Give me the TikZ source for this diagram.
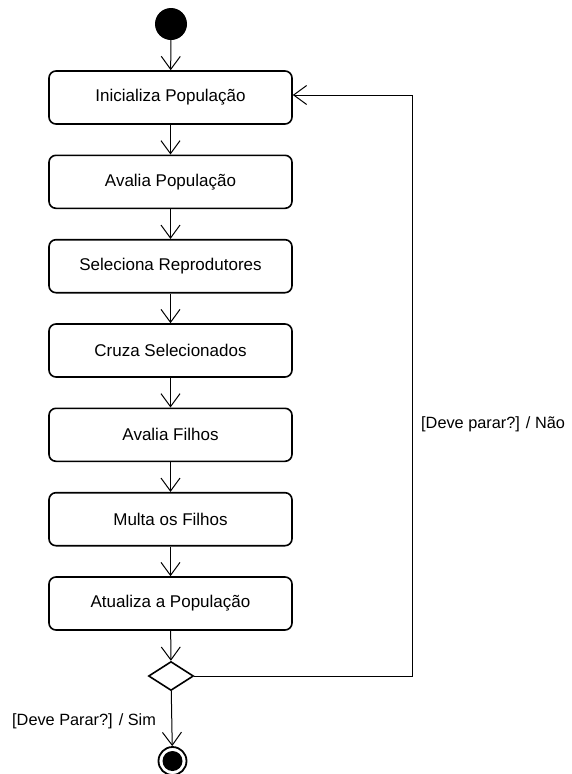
\documentclass[tikz,border=0pt]{standalone}
\usepackage{fontspec}
\setmainfont{Liberation Sans}
\usetikzlibrary{arrows.meta,shapes.geometric}
\begin{document}
\begin{tikzpicture}[x=1pt,y=-1pt,
  font=\fontsize{17}{20}\selectfont,
  action/.style={draw,line width=1.6pt,rounded corners=7pt,minimum width=243pt,minimum height=53pt,inner sep=0pt},
  flow/.style={line width=1pt,-{Straight Barb[length=13pt,width=19pt,line width=1pt]}},
  lbl/.style={inner sep=0pt,anchor=west,font=\fontsize{16.3}{19}\selectfont}]
\useasboundingbox (0,0) rectangle (571,774);
% start marker
\node[circle,fill=black,minimum size=32pt,inner sep=0pt] (start) at (171,24) {};
% actions
\node[action] (a1) at (170.5,97.5) {Inicializa População};
\node[action] (a2) at (170.5,181.8) {Avalia População};
\node[action] (a3) at (170.5,266.2) {Seleciona Reprodutores};
\node[action] (a4) at (170.5,350.5) {Cruza Selecionados};
\node[action] (a5) at (170.5,434.8) {Avalia Filhos};
\node[action] (a6) at (170.5,519.2) {Multa os Filhos};
\node[action] (a7) at (170.5,603.5) {Atualiza a População};
% decision
\node[diamond,draw,line width=1.6pt,minimum width=45pt,minimum height=29pt,inner sep=0pt] (dec) at (171,676) {};
% final state
\node[circle,draw,line width=1.8pt,minimum size=28pt,inner sep=0pt] (stop) at (172.5,761) {};
\node[circle,fill=black,minimum size=20pt,inner sep=0pt] (stopdot) at (172.5,761) {};
% loop-back corners
\coordinate (lr) at (412,676);
\coordinate (ur) at (412,95);
% connectors
\draw[flow] (start) -- (a1);
\draw[flow] (a1) -- (a2);
\draw[flow] (a2) -- (a3);
\draw[flow] (a3) -- (a4);
\draw[flow] (a4) -- (a5);
\draw[flow] (a5) -- (a6);
\draw[flow] (a6) -- (a7);
\draw[flow] (a7) -- (dec);
\draw[flow] (dec) -- (stop);
\draw[flow] (dec.east) -- (lr) -- (ur) -- (ur -| a1.east);
% guards
\node[lbl] (gno) at (421,424) {[Deve parar?] / Não};
\node[lbl] (gyes) at (12,721) {[Deve Parar?] / Sim};
\end{tikzpicture}
\end{document}
